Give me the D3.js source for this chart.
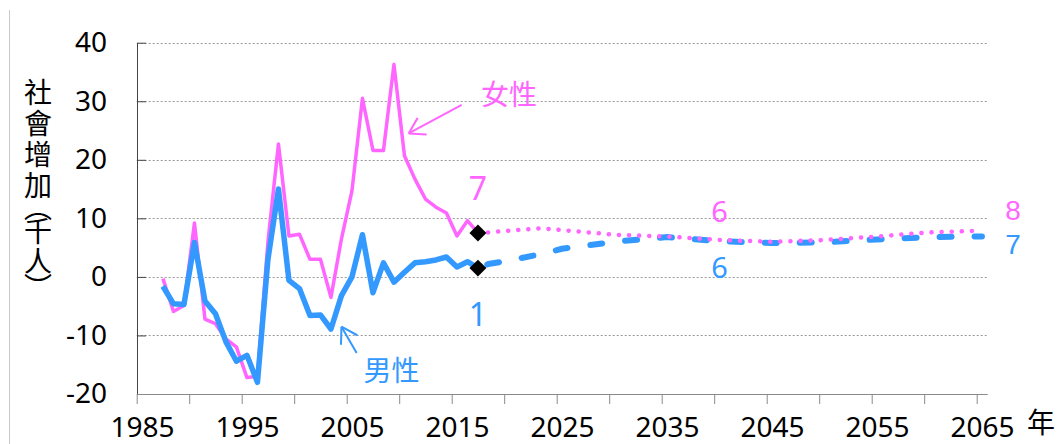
<!DOCTYPE html>
<html>
<head>
<meta charset="utf-8">
<script src="https://cdn.jsdelivr.net/npm/d3@7"></script>
<style>
  body { margin: 0; background: #fff; }
  svg { display: block; font-family: "Noto Sans", "Noto Sans CJK TC", sans-serif; }
</style>
</head>
<body>
<svg id="chart"></svg>
<script>
// social increase, thousand persons
var histYears = [1987, 1988, 1989, 1990, 1991, 1992, 1993, 1994, 1995, 1996,
                 1997, 1998, 1999, 2000, 2001, 2002, 2003, 2004, 2005, 2006,
                 2007, 2008, 2009, 2010, 2011, 2012, 2013, 2014, 2015, 2016, 2017];
var femaleHist = [-0.3, -5.9, -4.9, 9.2, -7.2, -8.0, -10.6, -12.0, -17.2, -17.0,
                  6.0, 22.7, 7.0, 7.3, 3.0, 3.0, -3.5, 6.5, 14.7, 30.5,
                  21.6, 21.6, 36.3, 20.7, 16.7, 13.3, 11.9, 10.9, 7.0, 9.6, 7.5];
var maleHist = [-1.6, -4.6, -4.7, 5.9, -4.1, -6.3, -11.1, -14.4, -13.4, -18.0,
                3.0, 15.0, -0.6, -2.0, -6.6, -6.5, -8.9, -3.2, 0.0, 7.2,
                -2.7, 2.4, -0.9, 0.8, 2.4, 2.6, 2.9, 3.4, 1.7, 2.6, 1.5];

// projection
var projYears = [2017, 2018, 2020, 2023, 2025, 2030, 2035, 2040, 2045, 2050, 2055, 2060, 2065];
var femaleProj = [7.5, 7.6, 7.9, 8.3, 8.0, 7.2, 6.9, 6.3, 6.0, 6.3, 6.9, 7.6, 7.9];
var maleProj = [1.5, 2.2, 2.8, 3.9, 4.8, 6.0, 6.8, 6.1, 5.8, 5.9, 6.4, 6.8, 6.9];

// value labels
var labelYears = [2017, 2040, 2065];
var femaleLabels = ["7", "6", "8"];
var maleLabels = ["1", "6", "7"];

var yTicks = [-20, -10, 0, 10, 20, 30, 40];
var xLabels = [1985, 1995, 2005, 2015, 2025, 2035, 2045, 2055, 2065];
var xTickYears = d3.range(1985, 2066, 5);
var yTitle = ["社會增", "加", "（", "千", "人", "）"];
var xTitle = "年";

var pink = "#ff66ff", blue = "#3399ff";

var width = 1059, height = 444;
var svg = d3.select("#chart").attr("width", width).attr("height", height);

// category axis, one band per year 1985..2065
var x = d3.scaleLinear().domain([1984.5, 2065.5]).range([136.7, 987.2]);
var y = d3.scaleLinear().domain([-20, 40]).range([394, 42.7]);

// outer border (left edge only visible)
svg.append("line")
  .attr("x1", 9.5).attr("x2", 9.5).attr("y1", 10).attr("y2", height)
  .attr("stroke", "#c8c8c8").attr("stroke-width", 1);

// gridlines
svg.append("g").selectAll("line")
  .data(yTicks.filter(function(d) { return d > -20; }))
  .enter().append("line")
  .attr("x1", x(1984.5)).attr("x2", x(2065.5))
  .attr("y1", function(d) { return Math.round(y(d)) + 0.5; })
  .attr("y2", function(d) { return Math.round(y(d)) + 0.5; })
  .attr("stroke", "#9a9a9a").attr("stroke-width", 1)
  .attr("stroke-dasharray", "2,2");

// y axis, ticks point inward; plain hyphen minus like the original
var yAxis = d3.axisLeft(y).tickValues(yTicks).tickSize(-9).tickSizeOuter(0).tickPadding(30)
  .tickFormat(function(d) { return String(d); });
var gy = svg.append("g").attr("transform", "translate(" + 137 + ",0)").call(yAxis);
gy.select(".domain").attr("stroke", "#444");
gy.selectAll(".tick line").attr("stroke", "#444");
gy.selectAll("text").attr("font-size", 28).attr("fill", "#000")
  .attr("font-family", "Noto Sans, sans-serif");

// x axis: tick marks on category boundaries
var xTicks = d3.axisBottom(x).tickValues(xTickYears.map(function(d) { return d - 0.5; }))
  .tickSize(10).tickSizeOuter(0).tickFormat("");
var gx = svg.append("g").attr("transform", "translate(0," + 394 + ")").call(xTicks);
gx.select(".domain").attr("stroke", "#8a8a8a");
gx.selectAll(".tick line").attr("stroke", "#8a8a8a");

var xLab = d3.axisBottom(x).tickValues(xLabels).tickSize(0).tickPadding(23)
  .tickFormat(function(d) { return String(d); });
var gxl = svg.append("g").attr("transform", "translate(0," + 394 + ")").call(xLab);
gxl.select(".domain").remove();
gxl.selectAll("text").attr("font-size", 28).attr("fill", "#000")
  .attr("font-family", "Noto Sans, sans-serif");

svg.append("text")
  .attr("x", 1041).attr("y", 433)
  .attr("text-anchor", "middle")
  .attr("font-family", "Noto Sans CJK TC")
  .attr("font-size", 28)
  .text(xTitle);

// y title, one vertical text; spacing tweaked per piece so the brackets sit tight
var titleSpacing = [3, -6, -4, 2, -2, 0];
var tt = svg.append("text")
  .attr("x", 38).attr("y", 78)
  .attr("writing-mode", "vertical-rl")
  .attr("font-family", "Noto Sans CJK TC")
  .attr("font-size", 28);
tt.selectAll("tspan")
  .data(yTitle)
  .enter().append("tspan")
  .attr("letter-spacing", function(d, i) { return titleSpacing[i]; })
  .text(function(d) { return d; });

function zip(xs, ys) {
  return xs.map(function(d, i) { return [d, ys[i]]; });
}

var line = d3.line()
  .x(function(d) { return x(d[0]); })
  .y(function(d) { return y(d[1]); });

// solid history lines
svg.append("path").datum(zip(histYears, femaleHist))
  .attr("d", line).attr("fill", "none")
  .attr("stroke", pink).attr("stroke-width", 3.5).attr("stroke-linejoin", "round");

svg.append("path").datum(zip(histYears, maleHist))
  .attr("d", line).attr("fill", "none")
  .attr("stroke", blue).attr("stroke-width", 5.5).attr("stroke-linejoin", "round");

// projection lines
svg.append("path").datum(zip(projYears, maleProj))
  .attr("d", line).attr("fill", "none")
  .attr("stroke", blue).attr("stroke-width", 6)
  .attr("stroke-linecap", "round")
  .attr("stroke-dasharray", "12,23")
  .attr("stroke-dashoffset", -10);

svg.append("path").datum(zip(projYears, femaleProj))
  .attr("d", line).attr("fill", "none")
  .attr("stroke", pink).attr("stroke-width", 4.5)
  .attr("stroke-linecap", "round")
  .attr("stroke-dasharray", "0.1,10");

// black diamonds at the base year
var base = [[histYears[histYears.length - 1], femaleHist[femaleHist.length - 1]],
            [histYears[histYears.length - 1], maleHist[maleHist.length - 1]]];
svg.append("g").selectAll("path")
  .data(base)
  .enter().append("path")
  .attr("d", d3.symbol().type(d3.symbolSquare).size(144))
  .attr("transform", function(d) { return "translate(" + x(d[0]) + "," + y(d[1]) + ") rotate(45)"; })
  .attr("fill", "#000");

// value labels: [dx, dy, font size]; the 2065 pair is very close so it gets a tighter font
var fOff = [[0, -33, 32], [0, -18, 29], [31, -11, 28]];
var mOff = [[0, 58, 32], [0, 37, 29], [31, 17.5, 28]];
labelYears.forEach(function(yr, i) {
  var fv = femaleProj[projYears.indexOf(yr)];
  var mv = maleProj[projYears.indexOf(yr)];
  var fam = (i == labelYears.length - 1) ? "Liberation Sans" : "Noto Sans";
  svg.append("text")
    .attr("x", x(yr) + fOff[i][0]).attr("y", y(fv) + fOff[i][1])
    .attr("text-anchor", "middle").attr("font-size", fOff[i][2])
    .attr("font-family", fam)
    .attr("fill", pink).text(femaleLabels[i]);
  svg.append("text")
    .attr("x", x(yr) + mOff[i][0]).attr("y", y(mv) + mOff[i][1])
    .attr("text-anchor", "middle").attr("font-size", mOff[i][2])
    .attr("font-family", fam)
    .attr("fill", blue).text(maleLabels[i]);
});

// annotation arrows
function arrow(tip, tail, color) {
  var g = svg.append("g").attr("stroke", color).attr("stroke-width", 2).attr("fill", "none");
  var ang = Math.atan2(tail[1] - tip[1], tail[0] - tip[0]);
  g.append("line").attr("x1", tip[0]).attr("y1", tip[1]).attr("x2", tail[0]).attr("y2", tail[1]);
  [-0.55, 0.55].forEach(function(a) {
    g.append("line").attr("x1", tip[0]).attr("y1", tip[1])
      .attr("x2", tip[0] + 18 * Math.cos(ang + a))
      .attr("y2", tip[1] + 18 * Math.sin(ang + a));
  });
}
arrow([x(2010.4), y(24.5)], [x(2015.45), y(29.4)], pink);
arrow([x(2004.0), y(-8.5)], [x(2005.45), y(-13.0)], blue);

svg.append("text")
  .attr("x", x(2017.3)).attr("y", 105)
  .attr("font-family", "Noto Sans CJK TC").attr("font-size", 28)
  .attr("fill", pink).text("女性");
svg.append("text")
  .attr("x", x(2006.1)).attr("y", 381)
  .attr("font-family", "Noto Sans CJK TC").attr("font-size", 28)
  .attr("fill", blue).text("男性");
</script>
</body>
</html>
